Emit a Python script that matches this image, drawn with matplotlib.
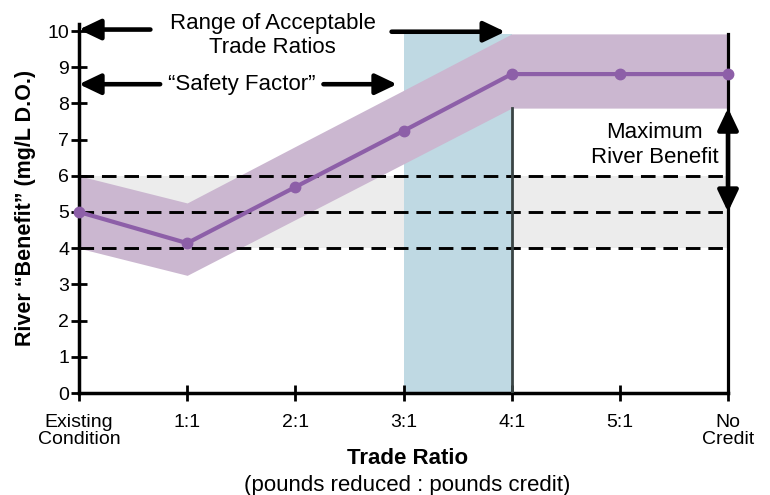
import matplotlib
matplotlib.use("Agg")
import matplotlib.pyplot as plt

plt.rcParams['font.family'] = ['Liberation Sans', 'DejaVu Sans']

categories = ["Existing\nCondition", "1:1", "2:1", "3:1", "4:1", "5:1", "No\nCredit"]
benefit = [5.0, 4.14, 5.69, 7.24, 8.81, 8.81, 8.81]
band_upper = [6.0, 5.25, 6.81, 8.36, 9.92, 9.92, 9.92]
band_lower = [4.0, 3.25, 4.79, 6.33, 7.87, 7.87, 7.87]
baseline_lines = [4, 5, 6]
yticks = list(range(0, 11))

LINE = '#8d5fa8'
BAND = '#cbb7d0'
BLUE = '#bfd9e3'
GRAY = '#ececec'

YTOP = 10.2
PX_PER_UNIT = 36.2
fig = plt.figure(figsize=(7.7, 4.95), dpi=100)
ax = fig.add_axes([79/770, 1-393/495, (728-79)/770, YTOP*PX_PER_UNIT/495])
x = list(range(len(categories)))
ax.set_xlim(0, 6)
ax.set_ylim(0, YTOP)

# gray band between 4 and 6
ax.fill_between([0, 6], 4, 6, color=GRAY, zorder=1, lw=0)
# blue acceptable range
ax.fill_between([3, 4], 0, band_upper[4], color=BLUE, zorder=1.5, lw=0)
# purple safety band
ax.fill_between(x, band_lower, band_upper, color=BAND, zorder=2, lw=0)
# dashed reference lines
for yv in baseline_lines:
    ax.plot([0, 6], [yv, yv], color='black', ls=(0, (5, 2.7)), lw=2.1, zorder=3, clip_on=False)
# vertical line at 4:1
ax.plot([4, 4], [0, band_lower[4]], color='#3a4444', lw=2, zorder=3)
# right border line
ax.plot([6, 6], [0, band_upper[6]], color='black', lw=2.3, zorder=3, clip_on=False)
# main line
ax.plot(x, benefit, color=LINE, lw=3, marker='o', ms=7.5, zorder=5, clip_on=False)

for s in ['top', 'right']:
    ax.spines[s].set_visible(False)
for s in ['left', 'bottom']:
    ax.spines[s].set_linewidth(2.5)
ax.set_yticks(yticks)
ax.set_yticklabels([str(v) for v in yticks])
ax.set_xticks(x)
ax.set_xticklabels(categories, linespacing=1.0)
ax.tick_params(axis='both', direction='inout', length=12, width=2, labelsize=14)
ax.tick_params(axis='y', pad=1)
ax.tick_params(axis='x', pad=9)

ax.set_ylabel('River \u201cBenefit\u201d (mg/L D.O.)', fontsize=15.5, fontweight='bold', labelpad=8)
fig.text((79+728)/2/770 + 0.005, 1-458/495, 'Trade Ratio', ha='center', va='center',
         fontsize=16, fontweight='bold')
fig.text((79+728)/2/770 + 0.005, 1-485/495, '(pounds reduced : pounds credit)', ha='center', va='center',
         fontsize=16)

# annotation arrows
HEAD = 'head_length=1.3,head_width=0.62'
arrow_kw = dict(arrowstyle='-|>,' + HEAD, color='black', lw=3.3, shrinkA=0, shrinkB=0)
ax.annotate('', xy=(0.0, 10.04), xytext=(0.66, 10.04), arrowprops=arrow_kw, annotation_clip=False)
ax.annotate('', xy=(3.94, 9.98), xytext=(2.89, 9.98), arrowprops=arrow_kw, annotation_clip=False)
ax.text(1.79, 9.87, 'Range of Acceptable\nTrade Ratios', ha='center', va='center', fontsize=16,
        linespacing=1.2)
ax.annotate('', xy=(0.0, 8.53), xytext=(0.75, 8.53), arrowprops=arrow_kw, annotation_clip=False)
ax.annotate('', xy=(2.94, 8.53), xytext=(2.26, 8.53), arrowprops=arrow_kw, annotation_clip=False)
ax.text(1.5, 8.53, '\u201cSafety Factor\u201d', ha='center', va='center', fontsize=16)

ax.annotate('', xy=(6, 5.0), xytext=(6, band_lower[6]),
            arrowprops=dict(arrowstyle='<|-|>,' + HEAD, color='black', lw=3.3,
                            shrinkA=0, shrinkB=0), annotation_clip=False)
ax.text(5.32, 6.85, 'Maximum\nRiver Benefit', ha='center', va='center', fontsize=16, linespacing=1.2)

fig.savefig('out.png', dpi=100)
